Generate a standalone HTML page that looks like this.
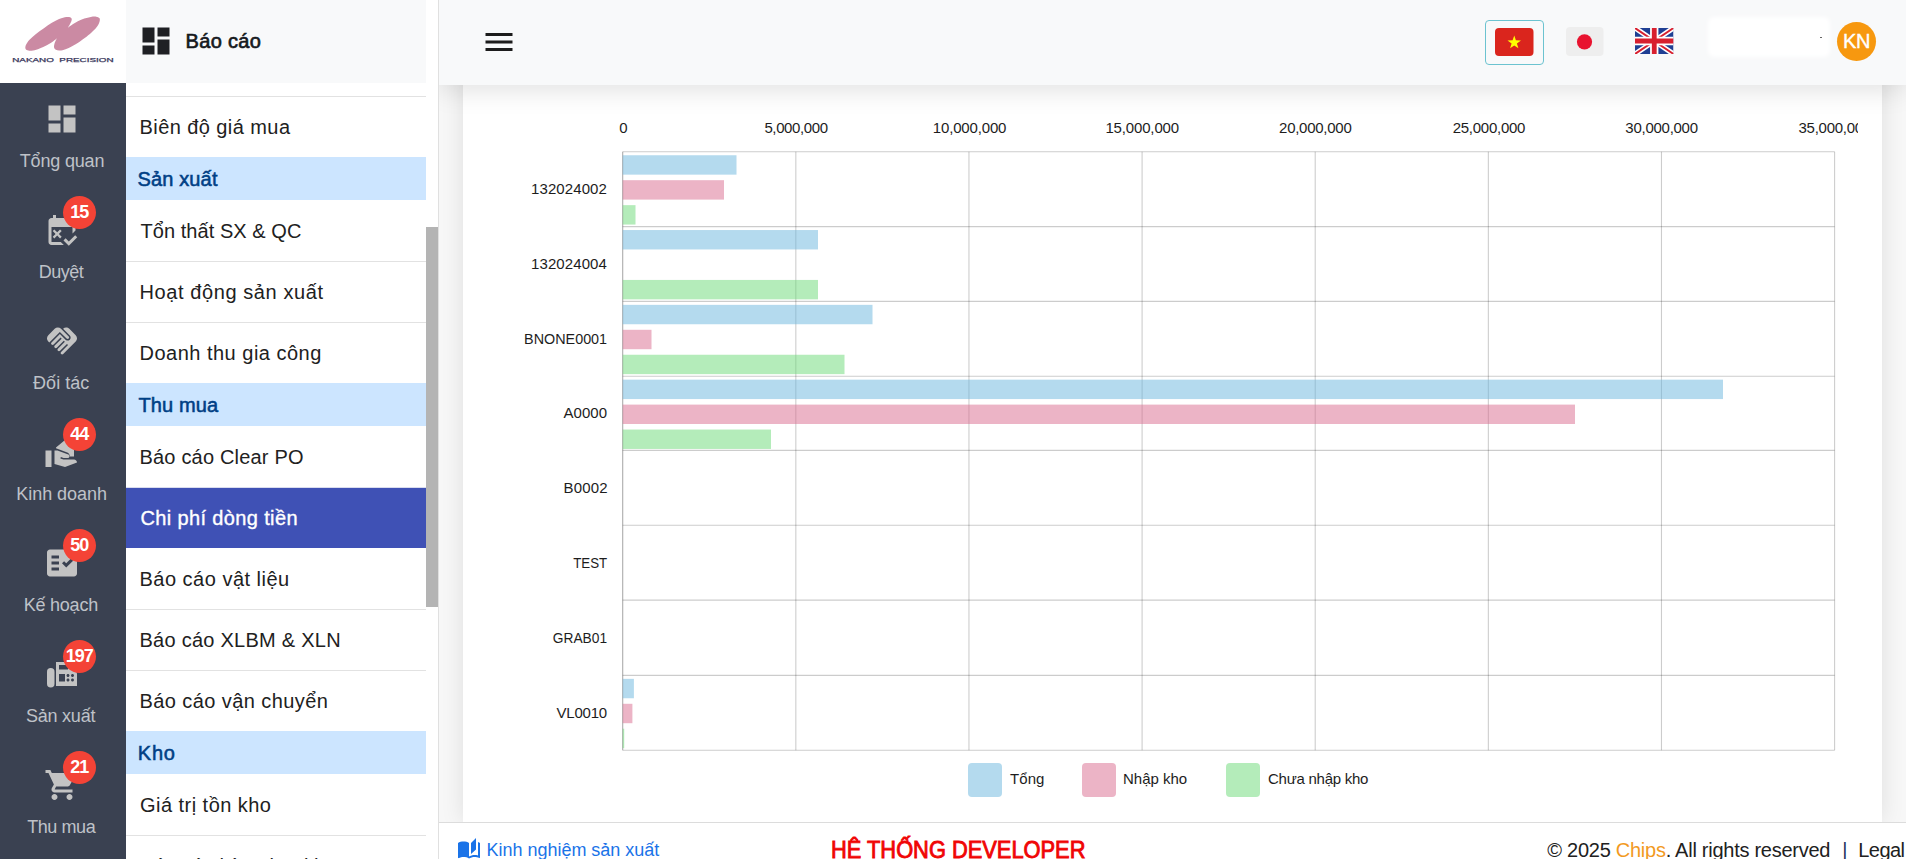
<!DOCTYPE html>
<html lang="vi">
<head>
<meta charset="utf-8">
<title>Chi phí dòng tiền</title>
<style>
*{box-sizing:border-box;margin:0;padding:0}
html,body{width:1906px;height:859px;overflow:hidden;background:#fafafa;font-family:"Liberation Sans",sans-serif;color:#212121}
#rail{position:absolute;left:0;top:0;width:126px;height:859px;background:#3a4151;overflow:hidden}
#logo{position:absolute;left:0;top:0;width:126px;height:83px;background:#fff}
#logo svg{position:absolute;left:0;top:0}
.ri{position:absolute;left:0;width:126px;height:111px;text-align:center}
.ri svg{position:absolute;left:44px;top:18px;width:36px;height:36px;fill:#c3c3c3}
.ri .lb{position:absolute;left:-20px;width:164px;top:66px;font-size:18px;line-height:24px;color:#bfc2c8;white-space:nowrap}
.ri .bd{position:absolute;left:63.200px;top:2px;width:33px;height:33px;border-radius:17px;background:#f44336;color:#fff;font-weight:bold;font-size:18px;line-height:33px;text-align:center;letter-spacing:-1.1px;text-indent:-1px}
#sub{position:absolute;left:126px;top:0;width:300px;height:859px;background:#fff;overflow:hidden}
#subhead{position:absolute;left:0;top:0;width:300px;height:83px;background:#f8f9fa}
#subhead svg{position:absolute;left:11.5px;top:23px;width:36px;height:36px;fill:#1f2024}
#subhead .t{position:absolute;left:59.5px;top:28px;font-size:20px;line-height:26px;-webkit-text-stroke:0.650px #16191d;color:#16191d;white-space:nowrap}
.it{position:absolute;left:0;width:300px;height:61px;border-top:1px solid #e2e2e2;font-size:20px;line-height:60px;padding-left:14.5px;color:#212121;white-space:nowrap}
.it.nb{border-top-color:transparent}
.it.act{background:#3f51b5;color:#fff;-webkit-text-stroke:0.350px #fff;border-top-color:#d9dcee}
.gh{position:absolute;left:0;width:300px;height:43px;background:#cce5ff;color:#004085;font-size:20px;line-height:43px;padding-top:1px;-webkit-text-stroke:0.550px #004085;padding-left:11.500px;white-space:nowrap}
#sbar{position:absolute;left:426px;top:0;width:12px;height:859px;background:#fff}
#sbar i{position:absolute;left:0;top:227px;width:12px;height:380px;background:#b4b4b4}
#vline{position:absolute;left:438px;top:0;width:1px;height:859px;background:#e0e0e0}
#main{position:absolute;left:439px;top:0;width:1467px;height:859px;background:#f7f7f7;overflow:hidden}
#card{position:absolute;left:24px;top:-40px;width:1419px;height:862px;background:#fff;box-shadow:0 0 22px rgba(0,0,0,.10)}
#chart{position:absolute;left:24px;top:0}
#top{position:absolute;left:0;top:0;width:1467px;height:85px;background:#f8f9fa;box-shadow:0 4px 26px rgba(0,0,0,.13)}
#top .menu{position:absolute;left:41.5px;top:24px;width:36px;height:36px;fill:#1c1c1c}
#vn{position:absolute;left:1046px;top:19.5px;width:59px;height:45px;border:1px solid #6cc3d0;border-radius:4px;background:#f8f9fa}
#vn svg{position:absolute;left:9px;top:7.5px}
#jp{position:absolute;left:1127px;top:26.5px}
#uk{position:absolute;left:1196px;top:28px}
#uname{position:absolute;left:1272px;top:20px;width:116px;height:34px;background:#fff;box-shadow:0 0 4px 3px #fff;border-radius:3px}
#uname i{position:absolute;left:109px;top:17px;width:1.500px;height:1px;background:#666}
#av{position:absolute;left:1398px;top:22px;width:39px;height:39px;border-radius:50%;background:#f7980f;color:#fff;font-size:20px;line-height:39px;text-align:center;letter-spacing:-0.3px;-webkit-text-stroke:0.400px #fff}
#foot{position:absolute;left:0;top:822px;width:1467px;height:37px;background:#fff;border-top:1px solid #dcdcdc}
#foot .k{position:absolute;left:19px;top:15px;white-space:nowrap;color:#1a73e8;font-size:18px;line-height:24px}
#foot .k svg{position:absolute;left:-1px;top:-0.900px;width:24px;height:24px;fill:#1a73e8}
#foot .k>span{position:absolute;left:29px;top:0}
#foot .h{position:absolute;left:392.500px;top:12px;white-space:nowrap;color:#f00505;font-size:24px;line-height:30px;-webkit-text-stroke:0.900px #f00505}
#foot .c{position:absolute;left:1107.500px;top:14px;white-space:nowrap;color:#212121;font-size:20px;line-height:26px}
#foot .c b{font-weight:normal;color:#f29a1f}
</style>
</head>
<body>
<div id="rail">
<div class="ri" style="top:83px"><svg viewBox="0 0 24 24" ><path d="M3 13h8V3H3v10zm0 8h8v-6H3v6zm10 0h8V11h-8v10zm0-18v6h8V3h-8z"/></svg><span class="lb"><span style="letter-spacing:-0.175px;">Tổng quan</span></span></div>
<div class="ri" style="top:194px"><svg viewBox="0 0 24 24" ><path d="M11.21 20H5V10h14v4.38l2-2V6c0-1.1-.9-2-2-2h-1V2h-2v2H8V2H6v2H5c-1.11 0-1.99.9-1.99 2L3 20c0 1.1.89 2 2 2h8.21l-2-2z"/><path d="M16.54 22.5L13 18.96l1.41-1.41 2.12 2.12 4.24-4.24 1.41 1.41-5.64 5.66z"/><path d="M8.800 13.500l1.900-1.900 1.100 1.100-1.900 1.900 1.900 1.900-1.100 1.100-1.900-1.900-1.900 1.900-1.100-1.100 1.900-1.900-1.900-1.900 1.100-1.100z"/></svg><span class="bd">15</span><span class="lb"><span style="letter-spacing:-0.500px;position:relative;left:-1.00px;">Duyệt</span></span></div>
<div class="ri" style="top:305px"><svg viewBox="0 0 24 24" ><path d="M16.48 10.41c-.39.39-1.04.39-1.43 0l-4.47-4.46-7.05 7.04-.66-.63c-1.17-1.17-1.17-3.07 0-4.24l4.24-4.24c1.17-1.17 3.07-1.17 4.24 0L16.48 9c.39.39.39 1.02 0 1.41zm.7-2.12c.78.78.78 2.05 0 2.83-1.27 1.27-2.61.22-2.83 0l-3.76-3.76-5.57 5.57c-.39.39-.39 1.02 0 1.41.39.39 1.02.39 1.42 0l4.62-4.62.71.71-4.62 4.62c-.39.39-.39 1.02 0 1.41.39.39 1.02.39 1.42 0l4.62-4.62.71.71-4.62 4.62c-.39.39-.39 1.02 0 1.41.39.39 1.02.39 1.41 0l4.62-4.62.71.71-4.62 4.62c-.39.39-.39 1.02 0 1.41.39.39 1.02.39 1.41 0l8.32-8.34c1.17-1.17 1.17-3.07 0-4.24l-4.24-4.24c-1.15-1.15-3.01-1.17-4.18-.06l4.47 4.47z"/></svg><span class="lb"><span style="letter-spacing:0.033px;position:relative;left:-0.80px;">Đối tác</span></span></div>
<div class="ri" style="top:416px"><svg viewBox="0 0 24 24" ><path d="M1 22h4V11H1v11zM20 17h-7l-2.09-.73.33-.94L13 16h2.82c.65 0 1.18-.53 1.18-1.18 0-.49-.31-.93-.77-1.11L8.970 11H7v9.020L14 22l8-3c-.01-1.1-.89-2-2-2z"/><path d="M20 14V9l-6-5-6 5v.5l7.500 2.800c1 .4 1.700 1.300 1.700 2.400 0 .1 0 .2 0 .3H20z"/></svg><span class="bd">44</span><span class="lb"><span style="letter-spacing:-0.044px;position:relative;left:-0.40px;">Kinh doanh</span></span></div>
<div class="ri" style="top:527px"><svg viewBox="0 0 24 24" ><path d="M20 3H4c-1.1 0-2 .9-2 2v14c0 1.1.9 2 2 2h16c1.1 0 2-.9 2-2V5c0-1.1-.9-2-2-2zM10 17H5v-2h5v2zm0-4H5v-2h5v2zm0-4H5V7h5v2zm4.82 6L12 12.160l1.410-1.410 1.410 1.420L17.990 9l1.420 1.420L14.820 15z"/></svg><span class="bd">50</span><span class="lb"><span style="letter-spacing:-0.214px;position:relative;left:-1.20px;">Kế hoạch</span></span></div>
<div class="ri" style="top:638px"><svg viewBox="0 0 24 24" ><path d="M4.500 8A2.500 2.500 0 0 0 2 10.500v8a2.500 2.500 0 0 0 5 0v-8A2.500 2.500 0 0 0 4.500 8z"/><path fill-rule="evenodd" d="M19 9h-1V4H8v16h14v-8c0-1.660-1.340-3-3-3zM10 6h6v3h-6V6zm4 11h-4v-5h4v5zm2 0c-.55 0-1-.45-1-1s.45-1 1-1 1 .45 1 1-.45 1-1 1zm0-3c-.55 0-1-.45-1-1s.45-1 1-1 1 .45 1 1-.45 1-1 1zm3 3c-.55 0-1-.45-1-1s.45-1 1-1 1 .45 1 1-.45 1-1 1zm0-3c-.55 0-1-.45-1-1s.45-1 1-1 1 .45 1 1-.45 1-1 1z"/></svg><span class="bd">197</span><span class="lb"><span style="letter-spacing:-0.229px;position:relative;left:-1.40px;">Sản xuất</span></span></div>
<div class="ri" style="top:749px"><svg viewBox="0 0 24 24" ><path d="M7 18c-1.1 0-1.990.9-1.990 2S5.900 22 7 22s2-.9 2-2-.9-2-2-2zM1 2v2h2l3.600 7.590-1.350 2.450c-.16.28-.25.61-.25.96 0 1.100.9 2 2 2h12v-2H7.420c-.14 0-.25-.11-.25-.25l.03-.12.9-1.630h7.450c.75 0 1.410-.41 1.750-1.030l3.580-6.490c.08-.14.12-.31.12-.48 0-.55-.45-1-1-1H5.210l-.94-2H1zm16 16c-1.100 0-1.990.9-1.990 2s.89 2 1.990 2 2-.9 2-2-.9-2-2-2z"/></svg><span class="bd">21</span><span class="lb"><span style="letter-spacing:-0.417px;position:relative;left:-0.80px;">Thu mua</span></span></div>

  <div id="logo">
    <svg width="126" height="83" viewBox="0 0 126 83">
      <path fill="#cb8aa3" d="M56.91 38.31C55.71 39.28 54.99 40.06 53.31 41.20C51.62 42.34 49.10 43.97 46.81 45.17C44.52 46.37 41.88 47.54 39.59 48.42C37.31 49.30 34.96 50.08 33.10 50.44C31.23 50.80 29.67 50.86 28.40 50.58C27.14 50.31 25.91 49.74 25.52 48.78C25.12 47.82 25.36 46.31 26.02 44.81C26.68 43.31 27.83 41.56 29.49 39.76C31.15 37.95 33.58 35.91 35.98 33.98C38.39 32.06 41.28 30.07 43.92 28.21C46.57 26.34 49.34 24.34 51.86 22.80C54.39 21.26 56.91 19.91 59.08 18.97C61.25 18.03 63.17 17.49 64.85 17.17C66.54 16.84 68.07 16.81 69.18 17.02C70.30 17.24 71.21 17.74 71.57 18.47C71.93 19.19 71.69 20.27 71.35 21.35C71.01 22.44 70.15 23.88 69.55 24.96C68.94 26.04 68.34 26.89 67.74 27.85C68.94 27.01 69.67 26.40 71.35 25.32C73.03 24.24 75.68 22.50 77.85 21.35C80.01 20.21 82.18 19.21 84.34 18.47C86.51 17.72 88.85 17.18 90.84 16.88C92.82 16.58 94.83 16.46 96.25 16.66C97.67 16.87 98.78 17.38 99.35 18.10C99.93 18.83 99.99 19.73 99.71 20.99C99.44 22.25 98.81 24.00 97.69 25.68C96.58 27.37 94.87 29.23 93.00 31.10C91.14 32.96 88.79 35.07 86.51 36.87C84.22 38.67 81.69 40.36 79.29 41.92C76.88 43.49 74.36 45.03 72.07 46.25C69.79 47.48 67.62 48.56 65.58 49.28C63.53 50.01 61.43 50.49 59.80 50.58C58.18 50.68 56.79 50.40 55.83 49.86C54.87 49.32 54.21 48.54 54.03 47.34C53.85 46.13 54.27 44.15 54.75 42.64C55.23 41.14 56.19 39.76 56.91 38.31Z"/>
      <text x="12.200" y="62" font-size="6.100" fill="#3b3a5e" stroke="#3b3a5e" stroke-width="0.250" textLength="101.400" lengthAdjust="spacingAndGlyphs" font-family="Liberation Sans, sans-serif">NAKANO&#160; PRECISION</text>
    </svg>
  </div>
</div>
<div id="sub">
<div class="it " style="top:96px"><span style="letter-spacing:0.429px;position:relative;left:-1.00px;">Biên độ giá mua</span></div>
<div class="gh " style="top:157px"><span style="letter-spacing:0.143px;">Sản xuất</span></div>
<div class="it nb" style="top:200px"><span style="letter-spacing:0.053px;">Tổn thất SX &amp; QC</span></div>
<div class="it " style="top:261px"><span style="letter-spacing:0.588px;position:relative;left:-1.00px;">Hoạt động sản xuất</span></div>
<div class="it " style="top:322px"><span style="letter-spacing:0.494px;position:relative;left:-1.00px;">Doanh thu gia công</span></div>
<div class="gh " style="top:383px"><span style="letter-spacing:0.133px;position:relative;left:1.00px;">Thu mua</span></div>
<div class="it nb" style="top:426px"><span style="letter-spacing:0.187px;position:relative;left:-1.00px;">Báo cáo Clear PO</span></div>
<div class="it act" style="top:487px"><span style="letter-spacing:0.362px;">Chi phí dòng tiền</span></div>
<div class="it nb" style="top:548px"><span style="letter-spacing:0.493px;position:relative;left:-1.00px;">Báo cáo vật liệu</span></div>
<div class="it " style="top:609px"><span style="letter-spacing:0.259px;position:relative;left:-1.00px;">Báo cáo XLBM &amp; XLN</span></div>
<div class="it " style="top:670px"><span style="letter-spacing:0.424px;position:relative;left:-1.00px;">Báo cáo vận chuyển</span></div>
<div class="gh " style="top:731px"><span style="letter-spacing:0.750px;position:relative;left:0.30px;">Kho</span></div>
<div class="it nb" style="top:774px"><span style="letter-spacing:0.464px;position:relative;left:-0.50px;">Giá trị tồn kho</span></div>
<div class="it " style="top:835px"><span style="">Báo cáo hàng lưu kho</span></div>

  <div id="subhead"><svg viewBox="0 0 24 24" ><path d="M3 13h8V3H3v10zm0 8h8v-6H3v6zm10 0h8V11h-8v10zm0-18v6h8V3h-8z"/></svg><span class="t"><span style="letter-spacing:0.333px;">Báo cáo</span></span></div>
</div>
<div id="sbar"><i></i></div>
<div id="vline"></div>
<div id="main">
  <div id="card"></div>
  <svg id="chart" width="1395" height="859" viewBox="463 0 1395 859"><g stroke="#000" stroke-opacity="0.2" stroke-width="1.1"><line x1="795.83" y1="151.8" x2="795.83" y2="750.2"/><line x1="968.96" y1="151.8" x2="968.96" y2="750.2"/><line x1="1142.09" y1="151.8" x2="1142.09" y2="750.2"/><line x1="1315.21" y1="151.8" x2="1315.21" y2="750.2"/><line x1="1488.34" y1="151.8" x2="1488.34" y2="750.2"/><line x1="1661.47" y1="151.8" x2="1661.47" y2="750.2"/><line x1="1834.60" y1="151.8" x2="1834.60" y2="750.2"/><line x1="622.7" y1="151.80" x2="1834.6" y2="151.80"/><line x1="622.7" y1="226.60" x2="1834.6" y2="226.60"/><line x1="622.7" y1="301.40" x2="1834.6" y2="301.40"/><line x1="622.7" y1="376.20" x2="1834.6" y2="376.20"/><line x1="622.7" y1="450.40" x2="1834.6" y2="450.40"/><line x1="622.7" y1="525.20" x2="1834.6" y2="525.20"/><line x1="622.7" y1="600.10" x2="1834.6" y2="600.10"/><line x1="622.7" y1="675.40" x2="1834.6" y2="675.40"/><line x1="622.7" y1="750.20" x2="1834.6" y2="750.20"/></g><line x1="622.7" y1="151.8" x2="622.7" y2="750.2" stroke="#000" stroke-opacity="0.33" stroke-width="1.1"/><rect x="622.7" y="155.25" width="113.80" height="19.4" fill="rgba(105,181,221,0.5)"/><rect x="622.7" y="180.20" width="101.30" height="19.4" fill="rgba(217,105,141,0.5)"/><rect x="622.7" y="205.15" width="12.80" height="19.4" fill="rgba(105,217,117,0.5)"/><rect x="622.7" y="230.05" width="195.30" height="19.4" fill="rgba(105,181,221,0.5)"/><rect x="622.7" y="279.95" width="195.30" height="19.4" fill="rgba(105,217,117,0.5)"/><rect x="622.7" y="304.85" width="249.80" height="19.4" fill="rgba(105,181,221,0.5)"/><rect x="622.7" y="329.80" width="28.80" height="19.4" fill="rgba(217,105,141,0.5)"/><rect x="622.7" y="354.75" width="221.80" height="19.4" fill="rgba(105,217,117,0.5)"/><rect x="622.7" y="379.65" width="1100.30" height="19.4" fill="rgba(105,181,221,0.5)"/><rect x="622.7" y="404.60" width="952.30" height="19.4" fill="rgba(217,105,141,0.5)"/><rect x="622.7" y="429.55" width="148.30" height="19.4" fill="rgba(105,217,117,0.5)"/><rect x="622.7" y="678.85" width="11.20" height="19.4" fill="rgba(105,181,221,0.5)"/><rect x="622.7" y="703.80" width="9.70" height="19.4" fill="rgba(217,105,141,0.5)"/><rect x="622.7" y="728.75" width="1.50" height="19.4" fill="rgba(105,217,117,0.5)"/><rect x="968" y="763" width="34" height="34" rx="4" fill="rgba(105,181,221,0.5)"/><rect x="1082" y="763" width="34" height="34" rx="4" fill="rgba(217,105,141,0.5)"/><rect x="1226" y="763" width="34" height="34" rx="4" fill="rgba(105,217,117,0.5)"/><g font-size="15" fill="#1d1d1d"><text x="619.25" y="132.90" letter-spacing="0.000">0</text><text x="764.39" y="132.90" letter-spacing="-0.375">5,000,000</text><text x="932.79" y="132.90" letter-spacing="-0.156">10,000,000</text><text x="1105.43" y="132.90" letter-spacing="-0.156">15,000,000</text><text x="1279.07" y="132.90" letter-spacing="-0.267">20,000,000</text><text x="1452.71" y="132.90" letter-spacing="-0.267">25,000,000</text><text x="1625.36" y="132.90" letter-spacing="-0.267">30,000,000</text><text x="1798.50" y="132.90" letter-spacing="-0.260">35,000,000</text><text x="531.00" y="194.30" letter-spacing="0.100">132024002</text><text x="531.00" y="269.10" letter-spacing="0.100">132024004</text><text x="524.10" y="343.90" textLength="83.00" lengthAdjust="spacingAndGlyphs">BNONE0001</text><text x="563.50" y="418.40" letter-spacing="0.050">A0000</text><text x="563.50" y="492.90" letter-spacing="0.150">B0002</text><text x="573.20" y="567.75" textLength="34.00" lengthAdjust="spacingAndGlyphs">TEST</text><text x="552.80" y="642.85" textLength="54.30" lengthAdjust="spacingAndGlyphs">GRAB01</text><text x="556.50" y="717.90" letter-spacing="-0.200">VL0010</text><text x="1010.00" y="784.20" letter-spacing="0.067">Tổng</text><text x="1123.00" y="784.20" letter-spacing="0.000">Nhập kho</text><text x="1268.00" y="784.20" letter-spacing="-0.250">Chưa nhập kho</text></g></svg>
  <div id="top">
    <svg class="menu" viewBox="0 0 24 24"><path d="M3 18h18v-2H3v2zm0-5h18v-2H3v2zm0-7v2h18V6H3z"/></svg>
    <div id="vn"><svg width="38.500" height="28" viewBox="0 0 38.500 28"><rect width="38.500" height="28" rx="4" fill="#da251d"/><polygon fill="#ffff00" points="19.250,7.500 20.900,12.300 26,12.400 21.900,15.450 23.400,20.300 19.250,17.400 15.100,20.300 16.600,15.450 12.500,12.400 17.600,12.300"/></svg></div>
    <svg id="jp" width="37.500" height="29" viewBox="0 0 37.500 29"><rect width="37.500" height="29" rx="4" fill="#eeeeee"/><circle cx="18.500" cy="14.800" r="7.600" fill="#e8132f"/></svg>
    <svg id="uk" width="38.500" height="26" viewBox="0 0 60 40" preserveAspectRatio="none">
      <clipPath id="ukc"><rect width="60" height="40"/></clipPath>
      <g clip-path="url(#ukc)">
      <rect width="60" height="40" fill="#1f3f93"/>
      <path d="M0,0 L60,40 M60,0 L0,40" stroke="#fff" stroke-width="8"/>
      <path d="M0,0 L60,40 M60,0 L0,40" stroke="#d8202f" stroke-width="3"/>
      <path d="M30,0 V40 M0,20 H60" stroke="#fff" stroke-width="13"/>
      <path d="M30,0 V40 M0,20 H60" stroke="#d8202f" stroke-width="7.500"/>
      </g>
    </svg>
    <div id="uname"><i></i></div>
    <div id="av">KN</div>
  </div>
  <div id="foot">
    <div class="k"><svg viewBox="0 0 24 24" ><path d="M19 1l-5 5v11l5-4.500V1zM1 6v14.650c0 .25.25.5.5.5.1 0 .15-.05.25-.05C3.100 20.450 5.050 20 6.500 20c1.950 0 4.050.4 5.500 1.500V6c-1.450-1.100-3.550-1.500-5.500-1.500S2.450 4.900 1 6zm22 13.500V6c-.6-.45-1.250-.75-2-1v13.500c-1.100-.35-2.300-.5-3.500-.5-1.700 0-4.150.65-5.500 1.500v2c1.350-.85 3.800-1.500 5.500-1.500 1.650 0 3.350.3 4.750 1.050.1.05.15.05.25.05.25 0 .5-.25.5-.5v-1.100z"/></svg><span><span style="letter-spacing:-0.026px;position:relative;left:-0.40px;">Kinh nghiệm sản xuất</span></span></div>
    <div class="h"><span style="position:relative;left:-0.60px;display:inline-block;transform:scaleX(0.9100);transform-origin:0 50%;">HỆ THỐNG DEVELOPER</span></div>
    <div class="c"><span style="letter-spacing:-0.263px;position:relative;left:0.80px;">© 2025 <b>Chips</b>. All rights reserved</span></div>
    <div class="c" style="left:1403.300px;color:#1d3461">|</div>
    <div class="c" style="left:1418.500px"><span style="letter-spacing:-0.550px;position:relative;left:0.80px;">Legal</span></div>
  </div>
</div>
</body>
</html>
